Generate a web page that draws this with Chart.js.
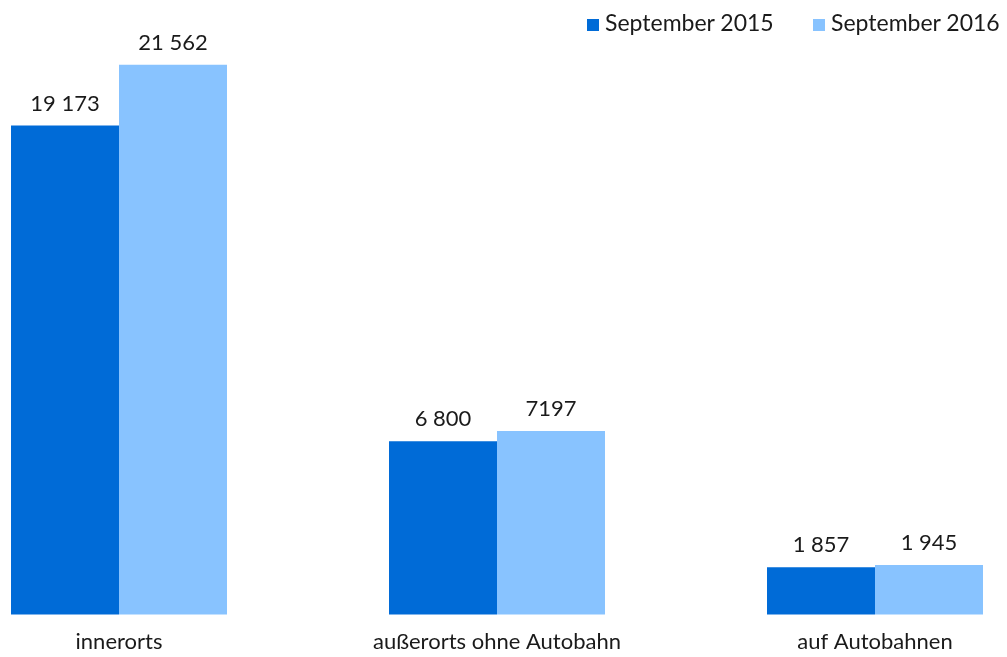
<!DOCTYPE html>
<html>
<head>
<meta charset="utf-8">
<script src="https://cdn.jsdelivr.net/npm/chart.js@4"></script>
<style>
  html, body { margin: 0; padding: 0; background: #fff; }
  #wrap { position: relative; width: 1007px; height: 657px; }
  .legend { position: absolute; top: 8px; font: 23px Lato, "Open Sans", sans-serif; color: #1a1a1a; line-height: 28px; white-space: nowrap; }
  .legend i { display: inline-block; width: 12px; height: 12px; margin-right: 6px; vertical-align: 0px; }
</style>
</head>
<body>
<div id="wrap">
  <canvas id="chart"></canvas>
  <div class="legend" id="leg0" style="left:587px"></div>
  <div class="legend" id="leg1" style="left:813px"></div>
</div>
<script>
const categories = ['innerorts', 'außerorts ohne Autobahn', 'auf Autobahnen'];
const seriesNames = ['September 2015', 'September 2016'];
const seriesColors = ['#006bd7', '#88c3ff'];
const values2015 = [19173, 6800, 1857];
const values2016 = [21562, 7197, 1945];
const valueLabels2015 = ['19 173', '6 800', '1 857'];
const valueLabels2016 = ['21 562', '7197', '1 945'];

const FONT = 'Lato, "Open Sans", sans-serif';

// draws the numbers above each bar
const valueLabels = {
  id: 'valueLabels',
  afterDatasetsDraw(chart) {
    const ctx = chart.ctx;
    ctx.save();
    ctx.font = '22px ' + FONT;
    ctx.fillStyle = '#1a1a1a';
    ctx.textAlign = 'center';
    ctx.textBaseline = 'alphabetic';
    chart.data.datasets.forEach((ds, i) => {
      chart.getDatasetMeta(i).data.forEach((bar, j) => {
        ctx.fillText(ds.labelsText[j], bar.x, bar.y - 15);
      });
    });
    ctx.restore();
  }
};

const chart = new Chart(document.getElementById('chart'), {
  type: 'bar',
  data: {
    labels: categories,
    datasets: [
      { label: seriesNames[0], data: values2015, labelsText: valueLabels2015,
        backgroundColor: seriesColors[0], clip: false },
      { label: seriesNames[1], data: values2016, labelsText: valueLabels2016,
        backgroundColor: seriesColors[1], clip: false }
    ]
  },
  options: {
    responsive: true,
    maintainAspectRatio: false,
    animation: false,
    categoryPercentage: 0.5714,
    barPercentage: 1,
    layout: { padding: { left: 119, right: 132, top: 28, bottom: -4 } },
    plugins: {
      tooltip: { enabled: false },
      legend: { display: false }
    },
    scales: {
      x: {
        offset: false,
        grid: { display: false },
        border: { display: false },
        ticks: { color: '#1a1a1a', padding: 6, font: { family: FONT, size: 22 } }
      },
      y: {
        display: false,
        min: 0,
        max: 23000
      }
    }
  },
  plugins: [valueLabels]
});

// legend built from the dataset names and colours
chart.data.datasets.forEach((ds, i) => {
  const el = document.getElementById('leg' + i);
  el.innerHTML = '<i style="background:' + ds.backgroundColor + '"></i>' + ds.label;
});
</script>
</body>
</html>
